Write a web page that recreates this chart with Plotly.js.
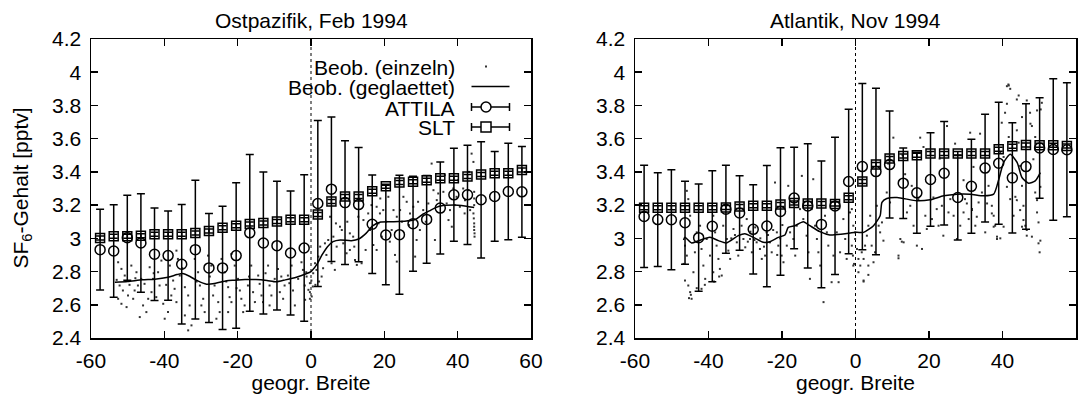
<!DOCTYPE html>
<html>
<head>
<meta charset="utf-8">
<script src="https://cdn.plot.ly/plotly-3.0.1.min.js"></script>
<style>html,body{margin:0;padding:0;background:#fff;}#chart{width:1087px;height:394px;}</style>
</head>
<body>
<div id="chart"></div>
<script>
// ---- data ----
const lats = [-57.52, -53.81, -50.10, -46.39, -42.68, -38.97, -35.26, -31.54, -27.83, -24.12, -20.41, -16.70, -12.99, -9.28, -5.57, -1.86,
              1.86, 5.57, 9.28, 12.99, 16.70, 20.41, 24.12, 27.83, 31.54, 35.26, 38.97, 42.68, 46.39, 50.10, 53.81, 57.52];

const ostAttila = [2.932, 2.924, 3.004, 2.972, 2.904, 2.896, 2.844, 2.932, 2.822, 2.822, 2.896, 3.033, 2.972, 2.956, 2.912, 2.942,
                   3.210, 3.296, 3.215, 3.203, 3.085, 3.020, 3.022, 3.088, 3.114, 3.182, 3.262, 3.262, 3.232, 3.252, 3.282, 3.280];
const ostAttilaErr = [0.243, 0.278, 0.256, 0.297, 0.278, 0.269, 0.359, 0.418, 0.328, 0.371, 0.438, 0.472, 0.427, 0.388, 0.373, 0.441,
                      0.500, 0.435, 0.373, 0.344, 0.297, 0.300, 0.358, 0.286, 0.264, 0.277, 0.280, 0.299, 0.350, 0.270, 0.291, 0.273];
const ostSlt = [3.002, 3.012, 3.012, 3.016, 3.024, 3.024, 3.024, 3.032, 3.044, 3.064, 3.076, 3.086, 3.092, 3.102, 3.112, 3.112,
                3.144, 3.222, 3.252, 3.252, 3.284, 3.314, 3.336, 3.340, 3.350, 3.362, 3.362, 3.372, 3.384, 3.392, 3.392, 3.412];
const ostSltErr = [0.012, 0.012, 0.012, 0.012, 0.012, 0.012, 0.012, 0.012, 0.012, 0.012, 0.012, 0.012, 0.012, 0.012, 0.012, 0.012,
                   0.012, 0.012, 0.012, 0.012, 0.012, 0.012, 0.012, 0.012, 0.012, 0.012, 0.012, 0.012, 0.012, 0.012, 0.012, 0.012];

const atlAttila = [3.132, 3.113, 3.112, 3.094, 3.004, 3.073, 3.175, 3.153, 3.054, 3.074, 3.162, 3.243, 3.195, 3.084, 3.195, 3.342,
                   3.432, 3.402, 3.444, 3.332, 3.274, 3.354, 3.392, 3.246, 3.313, 3.423, 3.452, 3.364, 3.432, 3.544, 3.535, 3.533];
const atlAttilaErr = [0.308, 0.282, 0.301, 0.250, 0.323, 0.334, 0.265, 0.224, 0.269, 0.365, 0.384, 0.306, 0.374, 0.382, 0.413, 0.435,
                      0.500, 0.501, 0.322, 0.212, 0.244, 0.281, 0.312, 0.256, 0.283, 0.324, 0.367, 0.332, 0.378, 0.302, 0.426, 0.403];
const atlSlt = [3.184, 3.184, 3.184, 3.184, 3.184, 3.184, 3.186, 3.192, 3.196, 3.196, 3.204, 3.212, 3.210, 3.210, 3.206, 3.244,
                3.342, 3.444, 3.480, 3.496, 3.500, 3.510, 3.510, 3.510, 3.510, 3.510, 3.536, 3.554, 3.562, 3.560, 3.560, 3.556];
const atlSltErr = [0.012, 0.012, 0.012, 0.012, 0.012, 0.012, 0.012, 0.012, 0.012, 0.012, 0.012, 0.012, 0.012, 0.012, 0.012, 0.012,
                   0.012, 0.012, 0.012, 0.012, 0.012, 0.012, 0.012, 0.012, 0.012, 0.012, 0.012, 0.012, 0.012, 0.012, 0.012, 0.012];

const ostSmoothLat = [-53.5, -50, -46, -42.6, -39, -36.5, -35, -33, -31, -28.5, -26, -23, -21, -18, -15, -12, -9.5, -7, -4, -1.5,
                      0, 1.5, 3, 4.5, 6, 8, 11, 13, 15, 16.8, 19, 22, 26, 28.6, 30.5, 32.3, 34, 36, 39, 41, 43, 44.5];
const ostSmoothVal = [2.735, 2.740, 2.750, 2.754, 2.766, 2.782, 2.788, 2.770, 2.745, 2.724, 2.730, 2.745, 2.748, 2.752, 2.752, 2.746, 2.738, 2.750, 2.766, 2.785,
                      2.800, 2.840, 2.900, 2.950, 2.980, 2.990, 2.986, 2.996, 3.030, 3.075, 3.098, 3.100, 3.104, 3.115, 3.145, 3.165, 3.185, 3.197, 3.200, 3.198, 3.190, 3.185];

const atlSmoothLat = [-46.8, -46.4, -44.6, -42.7, -39.6, -37.3, -35.1, -31.9, -30.1, -27.8, -25.1, -23.3, -21, -19.2, -18.3, -16.5, -14.2, -12.4, -9.7, -7, -3.4,
                      0.3, 2.2, 4.9, 6.7, 7.2, 8.5, 11.3, 16.7, 20.3, 24, 27.6, 31.2, 34.9, 37.6, 39, 40.3, 42.1, 44, 45.3, 47.1, 48.9, 50.3];
const atlSmoothVal = [2.990, 3.006, 2.972, 2.986, 3.006, 2.986, 2.972, 3.016, 3.028, 3.006, 2.976, 2.980, 3.006, 3.020, 3.066, 3.076, 3.100, 3.076, 3.040, 3.020, 3.026,
                      3.036, 3.036, 3.076, 3.136, 3.216, 3.240, 3.246, 3.226, 3.232, 3.256, 3.266, 3.266, 3.256, 3.266, 3.356, 3.456, 3.506, 3.456, 3.366, 3.332, 3.346, 3.396];

const ostObsLat = [-52.6, -51.7, -50.8, -52.2, -51.3, -49.9, -48.5, -52.6, -51.7, -50.3, -48.1, -47.2, -49.0, -47.6, -46.3, -45.4, -44.4, -45.8, -44.9, -46.7,
  -44.0, -43.1, -43.5, -42.2, -41.3, -40.3, -39.9, -41.7, -40.8, -38.5, -37.6, -37.2, -36.7, -36.3, -38.1, -36.7, -39.0, -35.8, -34.4, -33.5,
  -33.1, -34.4, -32.6, -33.5, -31.7, -30.8, -30.3, -29.4, -29.9, -29.0, -28.1, -27.2, -26.3, -26.7, -25.3, -24.9, -25.8, -24.4, -23.5, -22.6,
  -22.2, -21.7, -22.6, -21.7, -20.8, -19.9, -19.4, -19.0, -18.1, -18.5, -17.2, -16.3, -15.8, -15.3, -14.4, -14.0, -13.5, -13.1, -11.7, -11.3,
  -10.8, -11.3, -9.9, -9.0, -8.5, -7.6, -7.2, -6.3, -5.3, -4.9, -4.4, -3.5, -2.6, -1.7, -1.3, -0.3, -0.3, 0.1,
  -53.0, -49.5, -47.9, -42.9, -39.5, -35.1, -31.2, -27.6, -23.1, -20.3, -16.9, -12.4, -8.1, -5.9, -2.2,
  -1.2, -0.3, -0.7, 0.6, 1.1, 2.0, 2.5, 0.2, -1.6, 1.5, 2.9, 3.8, 5.2, 6.1, 7.0, 7.9, 8.4, 9.7, 10.6, 5.6,
  6.5, 11.5, 12.0, 12.5, 13.8, 14.3, 12.9, 10.6, 17.9, 18.8, 18.4, 19.3, 17.0, 19.7, 17.9, 16.1, 21.1, 22.5, 23.4, 22.0,
  24.3, 23.4, 22.9, 25.2, 26.1, 27.0, 27.9, 28.8, 29.7, 28.4, 30.6, 32.0, 32.9, 33.4, 34.3, 33.8, 34.7, 36.1, 37.0, 37.9,
  37.5, 38.4, 39.7, 40.6, 42.0, 42.9, 43.8, 44.3, 44.3, 44.5, 44.5, 44.6, 44.4, 43.4, 44.5, 44.5, 44.5, 44.6, 44.5,
  0.5, 1.2, 2.2, 3.3, 4.2, 4.7, 6.8, 8.8, 9.9, 11.8, 14.9, 15.6, 16.5, 18.9, 20.5, 21.5, 24.8, 26.7, 29.2, 31.3,
  35.2, 36.5, 38.8, 40.1, 41.5, 43.1, 39.2, 41.9];
const ostObsVal = [2.856, 2.816, 2.776, 2.716, 2.686, 2.656, 2.636, 2.636, 2.606, 2.586, 2.686, 2.716, 2.836, 2.796, 2.756, 2.726, 2.636, 2.596, 2.556, 2.526,
  2.826, 2.756, 2.676, 2.646, 2.716, 2.606, 2.516, 2.796, 2.866, 2.836, 2.746, 2.696, 2.926, 2.876, 2.656, 2.616, 2.556, 2.776, 2.706, 2.656,
  2.596, 2.536, 2.476, 2.446, 2.876, 2.796, 2.716, 2.636, 2.596, 2.556, 2.896, 2.836, 2.716, 2.656, 2.616, 2.556, 2.516, 2.876, 2.796, 2.706,
  2.646, 2.616, 2.556, 2.906, 2.836, 2.756, 2.686, 2.636, 2.596, 2.556, 2.716, 2.836, 2.676, 2.616, 2.776, 2.726, 2.656, 2.616, 2.836, 2.716,
  2.656, 2.596, 2.756, 2.816, 2.676, 2.636, 2.716, 2.776, 2.836, 2.686, 2.596, 2.756, 2.856, 2.716, 2.796, 2.676, 2.636, 2.746,
  2.750, 2.720, 2.760, 2.790, 2.720, 2.820, 2.740, 2.770, 2.740, 2.700, 2.770, 2.790, 2.770, 2.730, 2.810,
  2.77, 2.73, 2.69, 2.79, 2.85, 2.89, 2.95, 2.65, 2.63, 2.81, 2.77, 2.97, 3.13, 3.01, 2.95, 3.07, 3.05, 2.91, 2.93, 2.85,
  2.81, 3.01, 2.87, 2.84, 2.85, 3.11, 3.13, 3.03, 3.19, 3.15, 3.09, 3.01, 2.96, 3.17, 2.93, 3.05, 3.25, 3.17, 3.13, 3.05,
  3.17, 2.86, 2.90, 3.25, 3.22, 3.15, 3.19, 2.99, 3.05, 2.89, 3.17, 3.21, 3.45, 3.29, 3.23, 2.99, 3.27, 3.28, 3.21, 3.17,
  3.11, 3.07, 3.25, 3.19, 3.23, 3.29, 3.51, 3.46, 3.15, 3.09, 3.05, 3.01, 3.12, 3.17, 3.20, 3.24, 3.28, 3.03, 3.07,
  2.71, 2.72, 2.74, 2.82, 2.90, 2.99, 3.09, 2.97, 3.10, 2.95, 2.93, 3.15, 3.20, 3.24, 3.10, 2.98, 3.10, 3.08, 3.22, 3.10,
  3.35, 3.38, 3.30, 3.35, 3.30, 3.40, 3.20, 3.15];

const atlObsLat = [-45.9, -45.5, -45.0, -46.4, -45.9, -46.8, -46.4, -45.5, -45.0, -44.6, -44.1, -43.7, -43.2, -42.3, -41.9, -41.4, -40.9, -41.9, -40.5, -39.6,
  -38.7, -38.2, -37.8, -37.3, -36.9, -36.4, -38.7, -36.0, -35.0, -34.6, -34.1, -33.2, -32.3, -31.9, -31.0, -30.5, -30.0, -29.6, -28.7, -28.2,
  -27.3, -26.9, -26.0, -25.5, -24.6, -24.2, -23.3, -22.8, -21.9, -21.4, -21.0, -20.1, -19.6, -18.7, -18.3, -17.8, -16.9, -16.4, -16.0, -15.1,
  -14.6, -14.2, -13.3, -12.8, -12.4, -11.9, -11.5, -11.0, -10.5, -10.1, -9.6, -8.7, -8.3, -7.8, -7.4, -6.5, -6.0, -5.1, -4.6, -4.2,
  -3.3, -2.8, -2.4, -1.5, -1.0, -0.6, -0.1,
  -45.3, -44.8, -43.2, -41.0, -38.5, -37.1, -33.8, -32.8, -29.3, -28.6, -27.5, -25.9, -24.9, -23.8, -22.4, -21.3, -20.5, -19.9,
  -1.0, -0.6, -0.1, 0.4, 0.8, 1.3, -0.7, -0.4, 2.2, 2.6, 3.1, 3.5, 4.0, 4.4, 4.9, 5.3, 5.8, 6.3, 6.7, 7.2,
  7.6, 2.2, 1.7, 3.5, 0.8, 10.3, 12.2, 11.7, 13.1, 14.0, 14.9, 15.8, 16.7, 17.6, 18.1, 9.4, 8.5, 13.5, 15.3, 17.1,
  19.0, 19.4, 20.8, 21.2, 22.1, 22.6, 23.5, 23.9, 24.9, 25.3, 25.8, 26.7, 27.6, 28.5, 29.4, 29.8, 30.8, 31.2, 31.7, 32.6,
  33.5, 34.4, 35.3, 36.2, 37.1, 37.6, 38.0, 38.5, 39.4, 39.8, 40.7, 41.2, 41.6, 42.1, 43.0, 43.9, 44.4, 44.8, 45.3, 45.7,
  46.2, 46.6, 47.5, 48.0, 48.4, 48.9, 49.4, 49.8, 50.3, 50.1, 50.7, 50.4,
  41.7, 42.1, 44.4, 46.6, 49.4, 41.2, 45.3, 47.6, 43.9, 48.9, 41.7, 40.3, 33.9, 32.1, 29.4, 30.3, 31.7, 33.0, 35.8, 37.1,
  37.6, 38.5, 43.9, 44.8, 45.7, 46.6, 48.0, 49.8, 49.4, 50.3, 43.5, 41.2, 45.3, 40.3, 39.4,
  12.8, 18.5, 22.9, 27.1, 8.9, 2.2, 3.5, 11.7, 12.6];
const atlObsVal = [3.286, 3.236, 3.136, 2.956, 2.896, 2.846, 2.746, 2.716, 2.676, 2.636, 2.796, 2.916, 3.036, 3.076, 2.936, 2.836, 2.756, 2.696, 2.996, 2.896,
  3.136, 3.036, 2.956, 2.876, 2.816, 2.776, 2.796, 3.076, 2.996, 2.926, 2.876, 3.056, 2.976, 2.896, 3.076, 2.996, 2.946, 3.116, 2.996, 2.916,
  3.066, 2.976, 2.936, 2.876, 2.896, 3.036, 2.976, 2.916, 3.336, 3.036, 2.956, 2.896, 2.856, 2.956, 3.316, 3.036, 2.996, 2.896, 3.076, 3.176,
  3.376, 3.116, 3.016, 2.916, 2.756, 3.176, 3.356, 3.076, 2.996, 2.916, 2.836, 2.616, 3.136, 3.036, 2.956, 2.736, 2.896, 3.036, 2.736, 2.916,
  3.116, 2.996, 2.876, 3.156, 2.956, 2.836, 3.036,
  2.640, 2.660, 2.700, 2.720, 2.740, 2.770, 3.000, 3.020, 2.980, 3.040, 2.990, 3.000, 2.950, 3.020, 3.050, 2.900, 3.000, 3.080,
  3.176, 3.076, 2.996, 2.936, 2.876, 2.836, 2.896, 2.846, 2.876, 2.956, 3.016, 3.076, 3.136, 2.956, 2.856, 2.916, 3.196, 3.076, 3.036, 3.096,
  2.986, 2.746, 2.916, 2.836, 2.796, 3.606, 2.996, 2.896, 2.976, 3.156, 3.196, 3.076, 2.956, 3.606, 2.936, 3.216, 3.276, 3.386, 3.316, 3.236,
  3.136, 3.056, 3.116, 3.246, 3.176, 3.076, 3.196, 3.016, 3.676, 3.156, 3.236, 3.136, 2.996, 3.076, 3.156, 3.236, 3.116, 3.636, 3.176, 3.076,
  3.216, 3.276, 3.036, 3.316, 3.196, 3.136, 3.076, 2.996, 3.516, 3.696, 3.756, 3.916, 3.926, 3.236, 3.136, 3.836, 3.576, 3.436, 3.316, 3.196,
  3.076, 3.016, 3.756, 3.676, 3.476, 3.276, 3.156, 3.096, 2.986, 2.916, 3.816, 3.776,
  3.92, 3.90, 3.86, 3.83, 3.77, 3.81, 3.73, 3.69, 3.65, 3.61, 3.61, 3.49, 3.63, 3.43, 3.35, 3.21, 3.17, 3.13, 3.21, 3.15,
  3.07, 3.01, 3.23, 3.17, 3.11, 3.05, 3.01, 2.97, 3.23, 3.31, 3.25, 3.31, 3.07, 3.07, 3.00,
  3.50, 3.55, 3.48, 3.57, 3.45, 2.74, 2.78, 2.88, 2.98];

const panelTitles = ['Ostpazifik, Feb 1994', 'Atlantik, Nov 1994'];
const seriesNames = ['Beob. (einzeln)', 'Beob. (geglaettet)', 'ATTILA', 'SLT'];
const xTickVals = [-60, -40, -20, 0, 20, 40, 60];
const xTickText = ['-60', '-40', '-20', '0', '20', '40', '60'];
const yTickVals = [2.4, 2.6, 2.8, 3.0, 3.2, 3.4, 3.6, 3.8, 4.0, 4.2];
const yTickText = ['2.4', '2.6', '2.8', '3', '3.2', '3.4', '3.6', '3.8', '4', '4.2'];
const xLabel = 'geogr. Breite';
const yLabel = 'SF<sub>6</sub>-Gehalt [pptv]';

// ---- drawing ----
const W = 1087, H = 394;
const FONT = '"Liberation Sans", Arial, Helvetica, sans-serif';
const FS = 21;
const px = x => x / W;
const py = y => (H - y) / H;

function panelTraces(xa, ya, obsLat, obsVal, smLat, smVal, att, attErr, slt, sltErr) {
  return [
    {x: obsLat, y: obsVal, xaxis: xa, yaxis: ya, type: 'scatter', mode: 'markers', showlegend: false,
     marker: {symbol: 'square', size: 2, color: '#333'}, hoverinfo: 'skip'},
    {x: smLat, y: smVal, xaxis: xa, yaxis: ya, type: 'scatter', mode: 'lines', showlegend: false,
     line: {color: '#000', width: 1.5, shape: 'spline', smoothing: 0.6}},
    {x: lats, y: att, xaxis: xa, yaxis: ya, type: 'scatter', mode: 'markers', showlegend: false,
     error_y: {type: 'data', array: attErr, visible: true, color: '#000', thickness: 1.5, width: 4},
     marker: {symbol: 'circle-open', size: 10, color: '#000', line: {width: 1.5, color: '#000'}}},
    {x: lats, y: slt, xaxis: xa, yaxis: ya, type: 'scatter', mode: 'markers', showlegend: false,
     error_y: {type: 'data', array: sltErr, visible: true, color: '#000', thickness: 1.5, width: 4},
     marker: {symbol: 'square-open', size: 9, color: '#000', line: {width: 1.5, color: '#000'}}}
  ];
}

const data = [].concat(
  panelTraces('x', 'y', ostObsLat, ostObsVal, ostSmoothLat, ostSmoothVal, ostAttila, ostAttilaErr, ostSlt, ostSltErr),
  panelTraces('x2', 'y2', atlObsLat, atlObsVal, atlSmoothLat, atlSmoothVal, atlAttila, atlAttilaErr, atlSlt, atlSltErr)
);

function xAxis(domain, anchor) {
  return {domain: domain, anchor: anchor, range: [-60, 60], tickvals: xTickVals, ticktext: xTickText,
    ticks: 'inside', ticklen: 7, tickwidth: 1.5, tickcolor: '#000', mirror: 'allticks', showline: true,
    linecolor: '#000', linewidth: 1.5, showgrid: false, zeroline: false, ticklabelstandoff: 3,
    tickfont: {family: FONT, size: FS, color: '#000'},
    title: {text: xLabel, font: {family: FONT, size: FS, color: '#000'}, standoff: 0}};
}
function yAxis(domain, anchor) {
  return {domain: domain, anchor: anchor, range: [2.4, 4.2], tickvals: yTickVals, ticktext: yTickText,
    ticks: 'inside', ticklen: 7, tickwidth: 1.5, tickcolor: '#000', mirror: 'allticks', showline: true,
    linecolor: '#000', linewidth: 1.5, showgrid: false, zeroline: false, ticklabelstandoff: 4,
    tickfont: {family: FONT, size: FS, color: '#000'}};
}

const yDom = [py(338), py(39)];
const shapes = [
  {type: 'line', xref: 'x', yref: 'y', x0: 0, x1: 0, y0: 2.4, y1: 4.2, layer: 'below', line: {color: '#000', width: 1, dash: 'dot'}},
  {type: 'line', xref: 'x2', yref: 'y2', x0: 0, x1: 0, y0: 2.4, y1: 4.2, layer: 'below', line: {color: '#000', width: 1, dash: 'dot'}}
];

// gnuplot-style key: text right-aligned, sample to its right
const keyTextX = 457, sx0 = 471.5, sx1 = 509.5, sMid = 486;
const rowY = [66.5, 86.5, 107, 127];
const annotations = [];
seriesNames.forEach((nm, i) => {
  annotations.push({xref: 'paper', yref: 'paper', x: px(keyTextX), y: py(rowY[i] + 1), xanchor: 'right', yanchor: 'middle',
    text: nm, showarrow: false, font: {family: FONT, size: FS, color: '#000'}});
});
// sample 0: dot
shapes.push({type: 'rect', xref: 'paper', yref: 'paper', x0: px(sMid - 1), x1: px(sMid + 1), y0: py(rowY[0] + 1), y1: py(rowY[0] - 1),
  fillcolor: '#333', line: {width: 0}});
// sample 1: line
shapes.push({type: 'line', xref: 'paper', yref: 'paper', x0: px(sx0), x1: px(sx1), y0: py(rowY[1]), y1: py(rowY[1]), line: {color: '#000', width: 1.5}});
// samples 2,3: errorbar + marker
[2, 3].forEach(i => {
  const y = rowY[i];
  shapes.push({type: 'line', xref: 'paper', yref: 'paper', x0: px(sx0), x1: px(sx1), y0: py(y), y1: py(y), line: {color: '#000', width: 1.5}});
  shapes.push({type: 'line', xref: 'paper', yref: 'paper', x0: px(sx0), x1: px(sx0), y0: py(y - 4), y1: py(y + 4), line: {color: '#000', width: 1.5}});
  shapes.push({type: 'line', xref: 'paper', yref: 'paper', x0: px(sx1), x1: px(sx1), y0: py(y - 4), y1: py(y + 4), line: {color: '#000', width: 1.5}});
  shapes.push({type: i === 2 ? 'circle' : 'rect', xref: 'paper', yref: 'paper',
    x0: px(sMid - 5), x1: px(sMid + 5), y0: py(y + 5), y1: py(y - 5), fillcolor: '#fff', line: {color: '#000', width: 1.5}});
});

// panel titles
annotations.push({xref: 'paper', yref: 'paper', x: px(311), y: py(20.5), xanchor: 'center', yanchor: 'middle', showarrow: false,
  text: panelTitles[0], font: {family: FONT, size: FS, color: '#000'}});
annotations.push({xref: 'paper', yref: 'paper', x: px(855.5), y: py(20.5), xanchor: 'center', yanchor: 'middle', showarrow: false,
  text: panelTitles[1], font: {family: FONT, size: FS, color: '#000'}});
// y-axis title (left panel)
annotations.push({xref: 'paper', yref: 'paper', x: px(21), y: py(188.5), xanchor: 'center', yanchor: 'middle', showarrow: false,
  textangle: -90, text: yLabel, font: {family: FONT, size: FS, color: '#000'}});

const layout = {
  width: W, height: H, margin: {l: 0, r: 0, t: 0, b: 0}, paper_bgcolor: '#fff', plot_bgcolor: '#fff',
  showlegend: false, font: {family: FONT, size: FS, color: '#000'},
  xaxis: xAxis([px(91), px(531)], 'y'),
  yaxis: yAxis(yDom, 'x'),
  xaxis2: xAxis([px(635), px(1076)], 'y2'),
  yaxis2: yAxis(yDom, 'x2'),
  shapes: shapes, annotations: annotations
};

Plotly.newPlot('chart', data, layout, {staticPlot: true, displayModeBar: false});
</script>
</body>
</html>
